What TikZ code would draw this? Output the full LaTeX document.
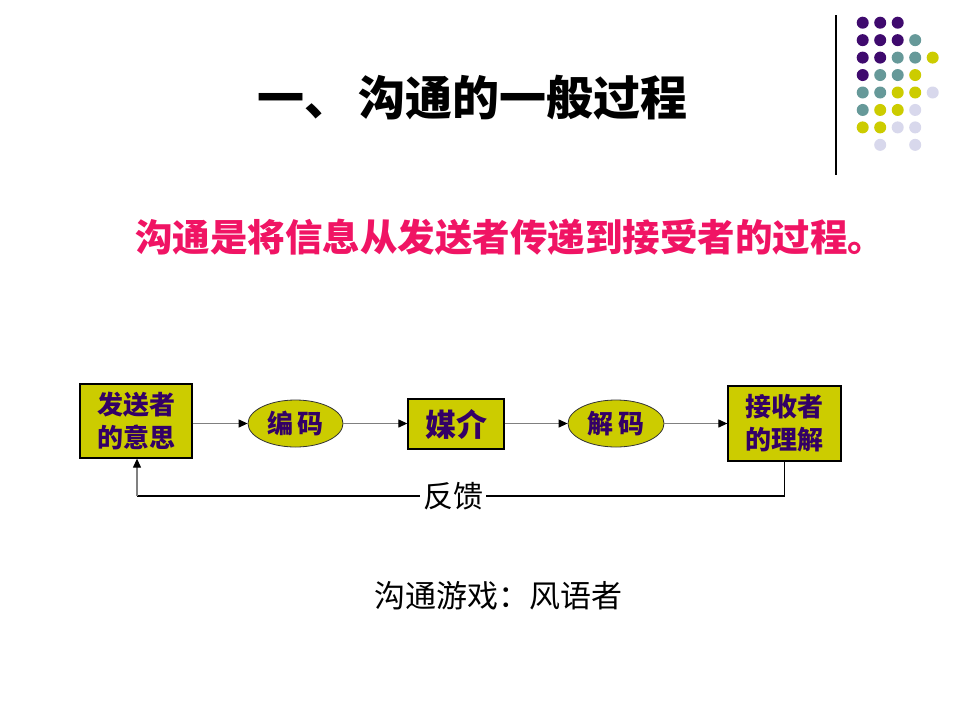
\documentclass[tikz,border=0pt]{standalone}
\usepackage{fontspec}
\setmainfont{Noto Sans CJK SC}
\newfontfamily\cjk{Noto Sans CJK SC}
\usetikzlibrary{arrows.meta,shapes.geometric}
\definecolor{boxfill}{HTML}{CCCC00}
\definecolor{boxtext}{HTML}{330066}
\definecolor{subred}{HTML}{F01464}
\definecolor{dotP}{HTML}{3F0A6E}
\definecolor{dotT}{HTML}{669999}
\definecolor{dotY}{HTML}{CCCC00}
\definecolor{dotL}{HTML}{D8D8EC}
\definecolor{linegray}{HTML}{808080}
\tikzset{
  boxnode/.style={draw=black, line width=1.3pt, fill=boxfill, inner sep=0pt, text=boxtext, font=\cjk\bfseries},
  ellnode/.style={ellipse, draw=black!80, line width=0.8pt, fill=boxfill, inner sep=0pt, text=boxtext, font=\cjk\bfseries\fontsize{26}{30}\selectfont},
  flow/.style={draw=linegray, line width=1.2pt, -{Triangle[length=9pt,width=8pt,color=black]}},
  dot/.style={circle, inner sep=0pt, minimum size=12pt}
}
\begin{document}
\begin{tikzpicture}[x=1pt,y=-1pt]
\useasboundingbox (0,0) rectangle (960,720);
\fill[white] (0,0) rectangle (960,720);
% decorative dots
\foreach \c/\r/\col in {0/0/dotP,1/0/dotP,2/0/dotP,
  0/1/dotP,1/1/dotP,2/1/dotP,3/1/dotT,
  0/2/dotP,1/2/dotP,2/2/dotT,3/2/dotT,4/2/dotY,
  0/3/dotP,1/3/dotT,2/3/dotT,3/3/dotY,
  0/4/dotT,1/4/dotT,2/4/dotY,3/4/dotY,4/4/dotL,
  0/5/dotT,1/5/dotY,2/5/dotY,3/5/dotL,
  0/6/dotY,1/6/dotY,2/6/dotL,3/6/dotL,
  1/7/dotL,3/7/dotL}
  \node[dot, fill=\col] (d\c\r) at ({862.7+17.5*\c},{22.7+17.45*\r}) {};
\coordinate (vtop) at (836,15);
\coordinate (vbot) at (836,175);
\draw[black, line width=1.3pt] (vtop) -- (vbot);
% titles
\node[font=\cjk\bfseries\fontsize{47}{50}\selectfont] (title) at (472.5,98) {一、\,沟通的一般过程};
\node[font=\cjk\bfseries\fontsize{37.5}{40}\selectfont, text=subred] (sub) at (510,237) {沟通是将信息从发送者传递到接受者的过程。};
% flow nodes
\node[boxnode, minimum width=112pt, minimum height=74pt, align=left, font=\cjk\bfseries\fontsize{26}{33}\selectfont] (b1) at (136,421) {发送者\\的意思};
\node[ellnode, minimum width=95pt, minimum height=47pt] (e1) at (295.5,423.5) {编\,码};
\node[boxnode, minimum width=96pt, minimum height=50pt, font=\cjk\bfseries\fontsize{31}{34}\selectfont] (b2) at (456,424) {媒介};
\node[ellnode, minimum width=96pt, minimum height=47pt] (e2) at (616,423.5) {解\,码};
\node[boxnode, minimum width=113pt, minimum height=75pt, align=left, font=\cjk\bfseries\fontsize{26}{33}\selectfont] (b3) at (784.5,423.5) {接收者\\的理解};
\draw[flow] (b1.east |- e1.west) -- (e1.west);
\draw[flow] (e1.east) -- (b2.west |- e1.east);
\draw[flow] (b2.east |- e2.west) -- (e2.west);
\draw[flow] (e2.east) -- (b3.west |- e2.east);
% feedback
\coordinate (cR) at (784.5,496);
\coordinate (cL) at (137,496);
\draw[black, line width=1.2pt] (b3.south) -- (cR) -- (cL);
\draw[flow] (cL) -- (cL |- b1.south);
\node[fill=white, inner sep=3pt, font=\cjk\fontsize{30}{32}\selectfont] (fb) at (453,496) {反馈};
% bottom text
\node[font=\cjk\fontsize{31}{34}\selectfont] (game) at (498,596) {沟通游戏：风语者};
\end{tikzpicture}
\end{document}
